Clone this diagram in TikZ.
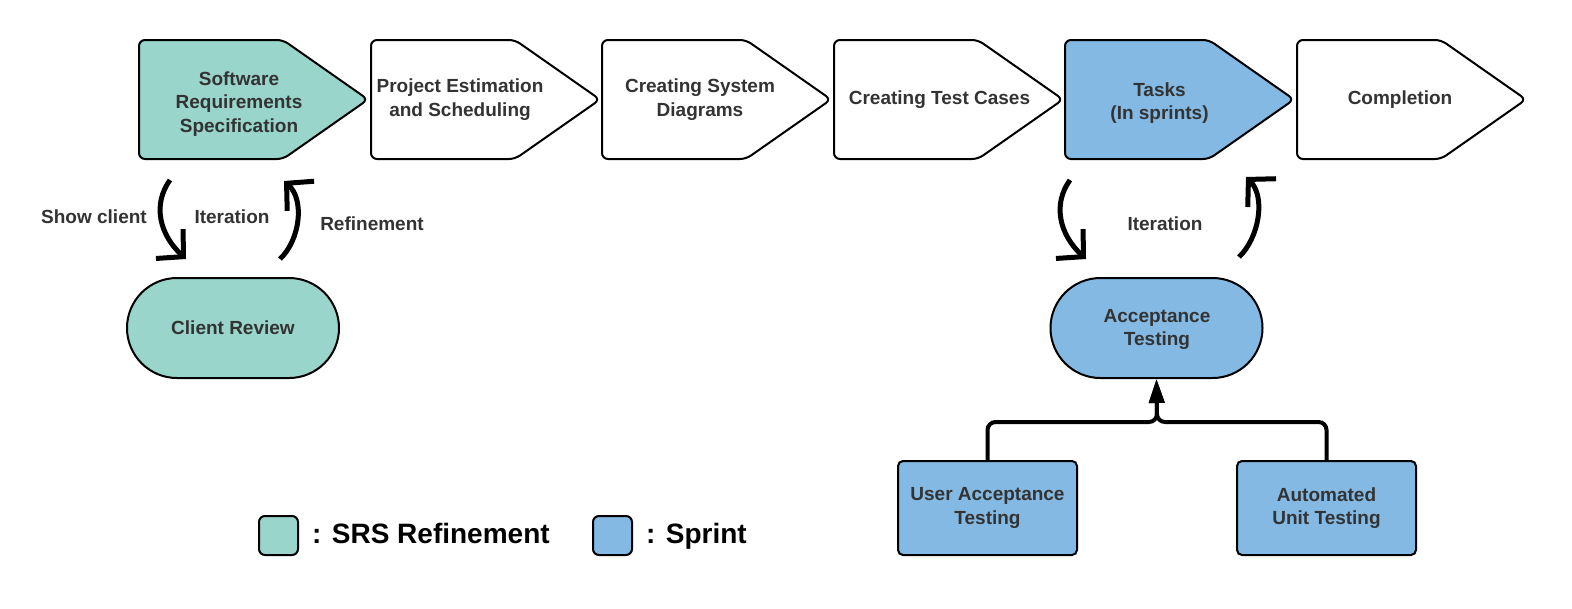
\documentclass[tikz,border=0pt]{standalone}
\usepackage{fontspec}
\setmainfont{Liberation Sans}
\usetikzlibrary{arrows.meta}
\definecolor{srsgreen}{HTML}{99D5CA}
\definecolor{sprintblue}{HTML}{83B9E3}
\definecolor{txtgray}{HTML}{333333}
\tikzset{
  stage/.style={draw=black, line width=2pt, rounded corners=6pt, line join=round},
  lbl/.style={font=\bfseries\fontsize{19}{23.5}\selectfont, text=txtgray, align=center, inner sep=0pt},
  stadium/.style={draw=black, line width=2pt, rounded corners=50pt, minimum width=212pt, minimum height=100pt, inner sep=0pt, font=\bfseries\fontsize{19}{23.5}\selectfont, text=txtgray, align=center},
  testbox/.style={draw=black, line width=2pt, rounded corners=5pt, minimum width=179pt, minimum height=94pt, inner sep=0pt, fill=sprintblue, font=\bfseries\fontsize{19}{23.5}\selectfont, text=txtgray, align=center},
  legbox/.style={draw=black, line width=2pt, rounded corners=6pt, minimum width=39pt, minimum height=39pt, inner sep=0pt},
  legtxt/.style={font=\bfseries\fontsize{28}{32}\selectfont, text=black, anchor=base west, inner sep=0pt},
  curvarrow/.style={line width=5pt, -{Straight Barb[length=19pt, width=40pt, line width=5pt]}},
  conn/.style={line width=4pt, rounded corners=8pt, -{Triangle[length=24pt, width=15pt]}}
}
\newcommand{\stagebox}[2]{\filldraw[stage, fill=#2] (#1,40) -- (#1+144,40) -- (#1+229,99.5) -- (#1+144,159) -- (#1,159) -- cycle;}
\begin{document}
\begin{tikzpicture}[x=1pt, y=-1pt]
\useasboundingbox (0,0) rectangle (1572,608);
% stages
\stagebox{139}{srsgreen}
\stagebox{371}{white}
\stagebox{602}{white}
\stagebox{834}{white}
\stagebox{1065}{sprintblue}
\stagebox{1297}{white}
\node[lbl] (srs) at (239,104) {Software\\Requirements\\Specification};
\node[lbl] (pe) at (460,99.5) {Project Estimation\\and Scheduling};
\node[lbl] (csd) at (700,99.5) {Creating System\\Diagrams};
\node[lbl] (ctc) at (939.5,99.5) {Creating Test Cases};
\node[lbl] (tasks) at (1159.5,103) {Tasks\\(In sprints)};
\node[lbl] (comp) at (1400,100) {Completion};
% review loops
\node[stadium, fill=srsgreen] (cr) at (233,328) {Client Review};
\node[stadium, fill=sprintblue] (acc) at (1156.5,328) {};
\node[lbl] (acct) at (1157,329.5) {Acceptance\\Testing};
\coordinate (l1s) at (170,180);
\coordinate (l1e) at (186,259);
\coordinate (l2s) at (280,259);
\coordinate (l2e) at (284,181);
\coordinate (r1s) at (1070,180);
\coordinate (r1e) at (1086,259);
\coordinate (r2s) at (1239,257);
\coordinate (r2e) at (1246,177);
\draw[curvarrow] (l1s) .. controls (152,205) and (160,235) .. (l1e);
\draw[curvarrow] (l2s) .. controls (300,240) and (305,200) .. (l2e);
\draw[curvarrow] (r1s) .. controls (1052,205) and (1060,235) .. (r1e);
\draw[curvarrow] (r2s) .. controls (1259,238) and (1266,197) .. (r2e);
\node[lbl] (show) at (94,217) {Show client};
\node[lbl] (it1) at (232,217) {Iteration};
\node[lbl] (ref) at (372,224) {Refinement};
\node[lbl] (it2) at (1165,224) {Iteration};
% tests
\node[testbox] (uat) at (987.5,508) {User Acceptance\\Testing};
\node[testbox] (aut) at (1326.5,508) {Automated\\Unit Testing};
\coordinate (junc) at (1157,422);
\draw[conn] (uat.north) |- (junc) -- (acc.south);
\draw[conn] (aut.north) |- (junc) -- (acc.south);
% legend
\node[legbox, fill=srsgreen] (lg1) at (278.5,535.5) {};
\node[legtxt] (lt1) at (312,543) {: SRS Refinement};
\node[legbox, fill=sprintblue] (lg2) at (612.5,535.5) {};
\node[legtxt] (lt2) at (646,543) {: Sprint};
\end{tikzpicture}
\end{document}
